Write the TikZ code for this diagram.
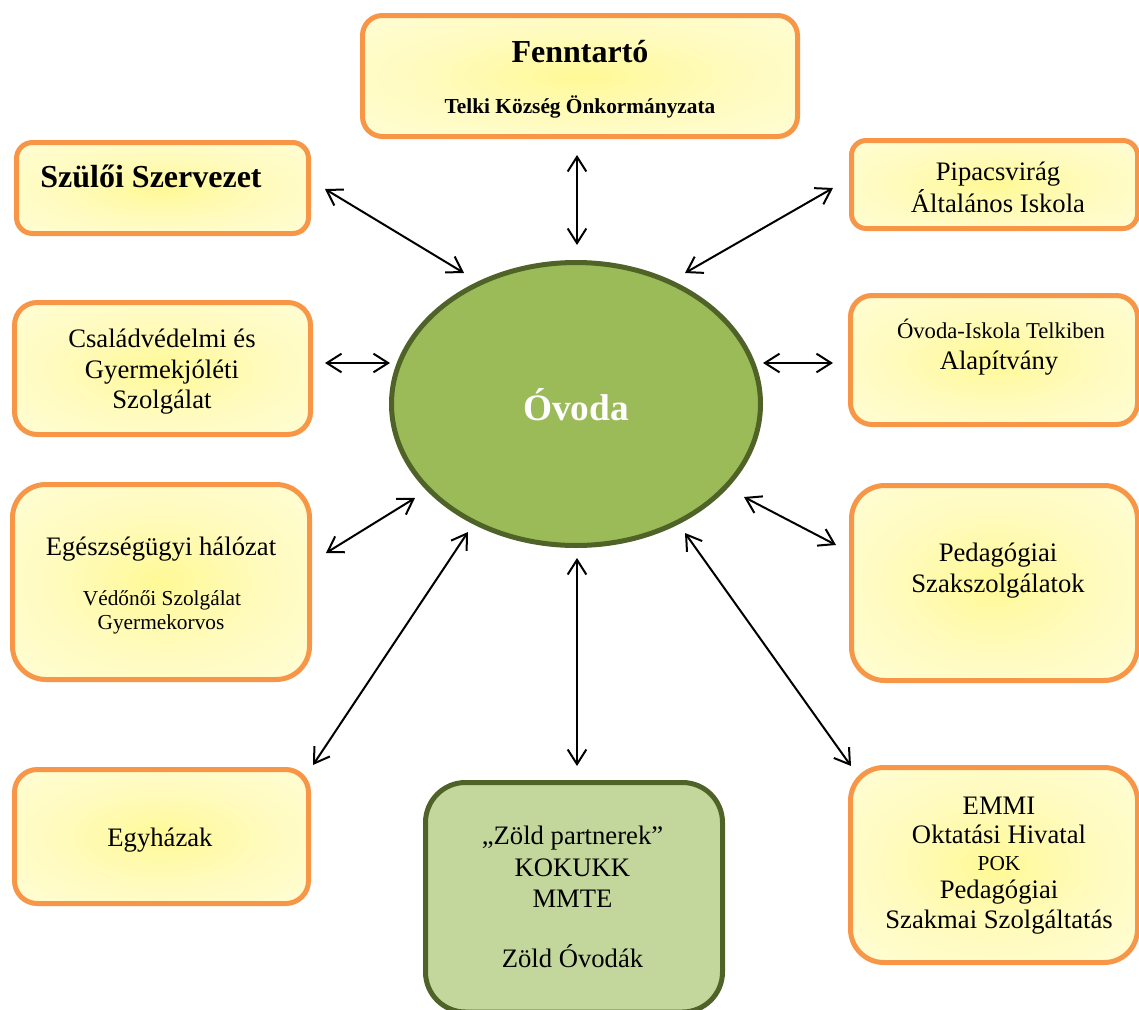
\documentclass[tikz,border=0pt]{standalone}
\usepackage{fontspec}
\setmainfont{Liberation Serif}
\usetikzlibrary{arrows.meta,shapes.geometric,fit}
\definecolor{borange}{HTML}{F79646}
\definecolor{yin}{HTML}{FFF996}
\definecolor{ymid}{HTML}{FFFBBE}
\definecolor{yout}{HTML}{FFFEE8}
\definecolor{ovgreen}{HTML}{9BBB59}
\definecolor{dkgreen}{HTML}{4F6228}
\definecolor{ltgreen}{HTML}{C3D69B}
\pgfdeclareradialshading{softyellow}{\pgfpoint{0bp}{0bp}}{color(0bp)=(yin); color(18bp)=(ymid); color(50bp)=(yout)}
\begin{document}
\begin{tikzpicture}[x=0.75pt,y=-0.75pt,
 obox/.style={draw=borange, line width=3.75pt, shading=softyellow, inner sep=0pt},
 gbox/.style={draw=dkgreen, line width=3.75pt, fill=ltgreen, inner sep=0pt},
 conn/.style={{Straight Barb[length=11pt,width=14pt]}-{Straight Barb[length=11pt,width=14pt]}, line width=1.5pt},
 reg/.style={anchor=base, inner sep=0pt, font=\fontsize{20}{24}\selectfont},
 sml/.style={anchor=base, inner sep=0pt, font=\fontsize{16}{19}\selectfont},
 ttl/.style={anchor=base, inner sep=0pt, font=\fontsize{24}{28}\selectfont\bfseries},
]
\useasboundingbox (0,0) rectangle (1139,1010);

% boxes
\node[obox, rounded corners=15pt, fit={(362.5,15.5) (797.5,136.5)}] (fenn) {};
\node[obox, rounded corners=12pt, fit={(16.5,142.5) (308.5,233.5)}] (szul) {};
\node[obox, rounded corners=11pt, fit={(851.5,140.5) (1137.5,228.5)}] (pip) {};
\node[obox, rounded corners=17pt, fit={(14.5,302.5) (310.5,434.5)}] (csal) {};
\node[obox, rounded corners=16pt, fit={(850.5,295.5) (1137.5,424.5)}] (ovis) {};
\node[obox, rounded corners=25pt, fit={(12.5,484.5) (309.5,679.5)}] (ege) {};
\node[obox, rounded corners=25pt, fit={(851.5,485.5) (1137.5,680.5)}] (ped) {};
\node[obox, rounded corners=17pt, fit={(14.5,769.5) (308.5,903.5)}] (egy) {};
\node[gbox, rounded corners=30pt, fit={(425.5,782.5) (722.5,1012)}] (zold) {};
\node[obox, rounded corners=25pt, fit={(850.5,767.5) (1137.5,962.5)}] (emmi) {};

% centre
\node[ellipse, draw=dkgreen, line width=3.75pt, fill=ovgreen, minimum width=276.75pt, minimum height=212.25pt, inner sep=0pt] (ov) at (576,404) {};
\node[anchor=base, inner sep=0pt, text=white, font=\fontsize{28}{32}\selectfont\bfseries] (ovt) at (576,420) {Óvoda};

% texts
\node[ttl] (t1) at (580,62) {Fenntartó};
\node[anchor=base, inner sep=0pt, font=\fontsize{16}{19}\selectfont\bfseries] (t2) at (580,113) {Telki Község Önkormányzata};
\node[ttl] (t3) at (151,187) {Szülői Szervezet};
\node[reg] (t4) at (998,180) {Pipacsvirág};
\node[reg] (t5) at (998,212) {Általános Iskola};
\node[reg] (t6) at (162,347) {Családvédelmi és};
\node[reg] (t7) at (162,378) {Gyermekjóléti};
\node[reg] (t8) at (162,408) {Szolgálat};
\node[anchor=base, inner sep=0pt, font=\fontsize{17}{20}\selectfont] (t9) at (1001,338) {Óvoda-Iskola Telkiben};
\node[reg] (t10) at (999,369) {Alapítvány};
\node[reg] (t11) at (161,555) {Egészségügyi hálózat};
\node[sml] (t12) at (162,605) {Védőnői Szolgálat};
\node[sml] (t13) at (161,629) {Gyermekorvos};
\node[reg] (t14) at (998,561) {Pedagógiai};
\node[reg] (t15) at (998,592) {Szakszolgálatok};
\node[reg] (t16) at (160,846) {Egyházak};
\node[reg] (t17) at (572.5,844) {„Zöld partnerek”};
\node[reg] (t18) at (572.5,876) {KOKUKK};
\node[reg] (t19) at (572.5,907) {MMTE};
\node[reg] (t20) at (572.5,967) {Zöld Óvodák};
\node[reg] (t21) at (999,814) {EMMI};
\node[reg] (t22) at (999,843) {Oktatási Hivatal};
\node[sml] (t23) at (999,870) {POK};
\node[reg] (t24) at (999,898) {Pedagógiai};
\node[reg] (t25) at (999,928) {Szakmai Szolgáltatás};

% connector ends
\coordinate (a1) at (325,189); \coordinate (b1) at (464,273);
\coordinate (a2) at (577,155); \coordinate (b2) at (577,245);
\coordinate (a3) at (833,188); \coordinate (b3) at (685,273);
\coordinate (a4) at (325,363); \coordinate (b4) at (390,363);
\coordinate (a5) at (833,363); \coordinate (b5) at (763,363);
\coordinate (a6) at (326,553); \coordinate (b6) at (415,498);
\coordinate (a7) at (836,545); \coordinate (b7) at (744,497);
\coordinate (a8) at (313,765); \coordinate (b8) at (468,532);
\coordinate (a9) at (577,766); \coordinate (b9) at (577,558);
\coordinate (a10) at (851,766); \coordinate (b10) at (685,533);

\draw[conn] (a1) -- (b1);
\draw[conn] (a2) -- (b2);
\draw[conn] (a3) -- (b3);
\draw[conn] (a4) -- (b4);
\draw[conn] (a5) -- (b5);
\draw[conn] (a6) -- (b6);
\draw[conn] (a7) -- (b7);
\draw[conn] (a8) -- (b8);
\draw[conn] (a9) -- (b9);
\draw[conn] (a10) -- (b10);
\end{tikzpicture}
\end{document}
